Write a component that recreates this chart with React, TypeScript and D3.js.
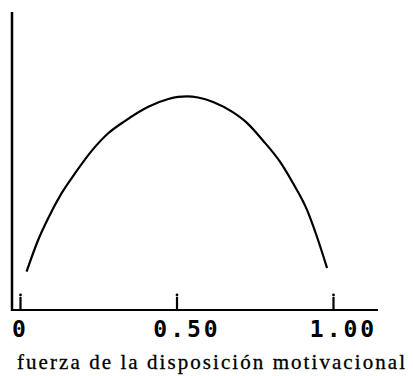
import * as d3 from "d3";
import React, { useEffect, useRef } from "react";

// curve (x = strength, y = relative height 0..100)
const curveX = [0.021, 0.058, 0.09, 0.133, 0.176, 0.229, 0.282, 0.335, 0.41, 0.474, 0.505, 0.534, 0.569, 0.617, 0.681, 0.725, 0.776, 0.831, 0.872, 0.917, 0.949, 0.981];
const curveY = [12.9, 23.5, 30.8, 39.2, 45.9, 53.4, 59.3, 63.4, 68.2, 70.8, 71.5, 71.7, 71.3, 69.8, 66.3, 62.8, 56.9, 49.7, 42.6, 33.6, 24.5, 14.1];

const tickValues = [0, 0.5, 1];
const tickLabels = ["0", "0.50", "1.00"];
const xTitle = "fuerza de la disposición motivacional";

export default function App() {
  const svgRef = useRef<SVGSVGElement>(null);

  useEffect(() => {
    const W = 413;
    const H = 376;
    const svg = d3.select(svgRef.current).attr("width", W).attr("height", H);
    svg.selectAll("*").remove();

    const x = d3.scaleLinear().domain([0, 1]).range([20, 333]);
    const y = d3.scaleLinear().domain([0, 100]).range([310, 12]);

    const data = curveX.map((v, i) => ({ x: v, y: curveY[i] }));

    // y axis (plain line, no ticks)
    svg.append("line")
      .attr("x1", 12).attr("x2", 12)
      .attr("y1", y(100)).attr("y2", y(0) + 1)
      .attr("stroke", "#000").attr("stroke-width", 2.5);

    // x axis baseline
    svg.append("line")
      .attr("x1", 12).attr("x2", 378)
      .attr("y1", y(0)).attr("y2", y(0))
      .attr("stroke", "#000").attr("stroke-width", 2.2);

    const xAxis = svg.append("g")
      .attr("transform", `translate(0,${y(0)})`)
      .call(
        d3.axisBottom(x)
          .tickValues(tickValues)
          .tickSize(-13)
          .tickSizeOuter(0)
          .tickFormat((d, i) => tickLabels[i])
      );
    xAxis.select(".domain").remove();
    xAxis.selectAll(".tick line").attr("stroke", "#000").attr("stroke-width", 2.2);
    xAxis.selectAll(".tick")
      .append("circle")
      .attr("cx", 0).attr("cy", -15).attr("r", 1.4).attr("fill", "#000");
    xAxis.selectAll(".tick text")
      .attr("y", 27)
      .attr("dy", 0)
      .attr("dx", (d, i) => (tickLabels[i].length > 1 ? 10 : 0))
      .attr("fill", "#000")
      .attr("font-family", "'DejaVu Sans Mono', monospace")
      .attr("font-weight", "bold")
      .attr("font-size", 23)
      .attr("letter-spacing", 3)
      .attr("text-anchor", "middle");

    const line = d3.line<{ x: number; y: number }>()
      .x((d) => x(d.x))
      .y((d) => y(d.y))
      .curve(d3.curveMonotoneX);

    svg.append("path")
      .datum(data)
      .attr("fill", "none")
      .attr("stroke", "#000")
      .attr("stroke-width", 2.2)
      .attr("d", line);

    svg.append("text")
      .attr("x", 17)
      .attr("y", 369)
      .attr("font-family", "'Liberation Serif', serif")
      .attr("font-size", 21)
      .attr("textLength", 388)
      .attr("lengthAdjust", "spacing")
      .attr("fill", "#000")
      .attr("stroke", "#000")
      .attr("stroke-width", 0.3)
      .text(xTitle);
  }, []);

  return (
    <div style={{ position: "absolute", left: 0, top: 0 }}>
      <svg ref={svgRef}></svg>
    </div>
  );
}
